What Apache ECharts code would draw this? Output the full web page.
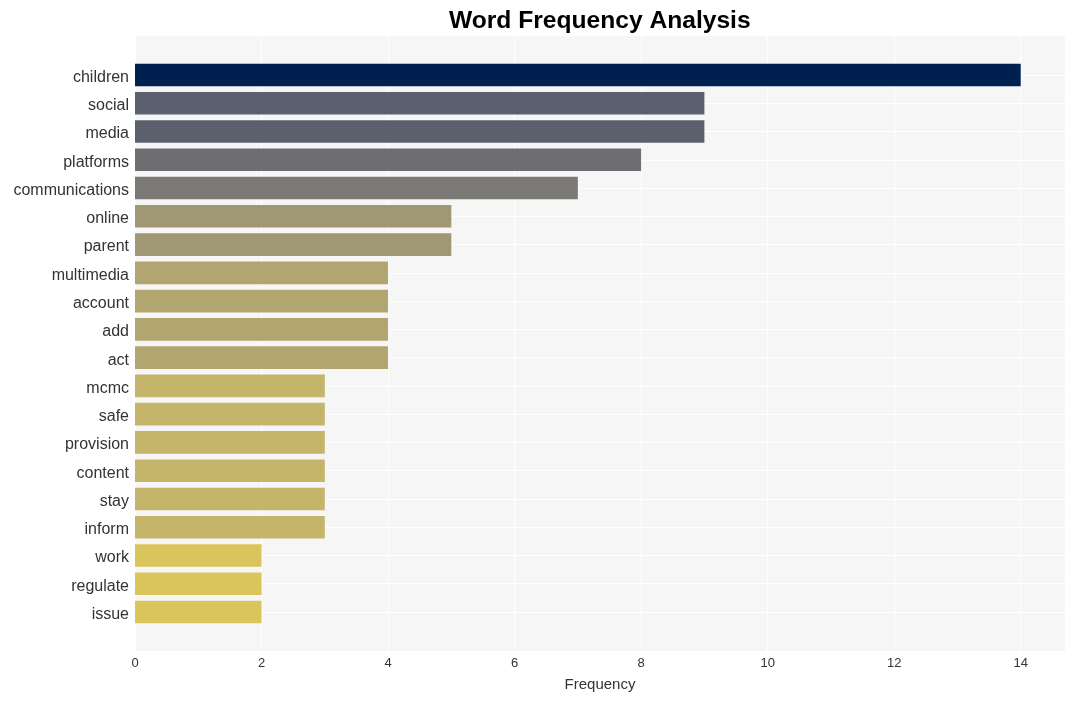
<!DOCTYPE html>
<html>
<head>
<meta charset="utf-8">
<script src="https://cdn.jsdelivr.net/npm/echarts@6/dist/echarts.min.js"></script>
<style>html,body{margin:0;padding:0;background:#fff;}#c{width:1075px;height:701px;}</style>
</head>
<body>
<div id="c"></div>
<script>
const words = ["children","social","media","platforms","communications","online","parent","multimedia","account","add","act","mcmc","safe","provision","content","stay","inform","work","regulate","issue"];
const counts = [14,9,9,8,7,5,5,4,4,4,4,3,3,3,3,3,3,2,2,2];
const xTicks = [0,2,4,6,8,10,12,14];

// style: colour by frequency value (cividis-like)
const colorByValue = {14:"#00204f",9:"#5c5f6d",8:"#6e6e72",7:"#7c7a77",5:"#a09775",4:"#b1a570",3:"#c5b56a",2:"#dac55d"};

const FONT = 'Liberation Sans, Arial, sans-serif';
const chart = echarts.init(document.getElementById('c'));
chart.setOption({
  animation: false,
  title: {
    text: "Word Frequency Analysis",
    left: 444, top: 4,
    textStyle: {fontFamily: FONT, fontSize: 24.6, fontWeight: 'bold', color: '#000'}
  },
  grid: [
    {left: 135, right: 10, top: 36, bottom: 50, show: true, backgroundColor: '#f6f6f6', borderWidth: 0},
    {left: 135, right: 10, top: 75, bottom: 89}
  ],
  xAxis: [
    {type: 'value', gridIndex: 0, min: 0, max: 14.7, interval: 2,
     name: 'Frequency', nameLocation: 'middle', nameGap: 26,
     nameTextStyle: {fontFamily: FONT, fontSize: 15, color: '#333'},
     axisLine: {show: false}, axisTick: {show: false},
     axisLabel: {fontFamily: FONT, fontSize: 13, color: '#333', margin: 6,
       formatter: v => xTicks.indexOf(v) >= 0 ? String(v) : ''},
     splitLine: {show: true, lineStyle: {color: '#ffffff', width: 1}}},
    {type: 'value', gridIndex: 1, min: 0, max: 14.7, show: false, splitLine: {show: false}}
  ],
  yAxis: [
    {type: 'value', gridIndex: 0, min: 0, max: 1, show: false, splitLine: {show: false}},
    {type: 'category', gridIndex: 1, data: words, inverse: true, boundaryGap: false,
     axisLine: {show: false}, axisTick: {show: false},
     axisLabel: {margin: 6, formatter: v => '{l|' + v + '}',
       rich: {l: {fontFamily: FONT, fontSize: 16, color: '#333', padding: [5, 0, 0, 0]}}},
     splitLine: {show: true, lineStyle: {color: '#ffffff', width: 1}}}
  ],
  series: [{
    type: 'bar', xAxisIndex: 1, yAxisIndex: 1,
    barCategoryGap: '20%',
    data: counts.map(v => ({value: v, itemStyle: {color: colorByValue[v]}}))
  }]
});
</script>
</body>
</html>
